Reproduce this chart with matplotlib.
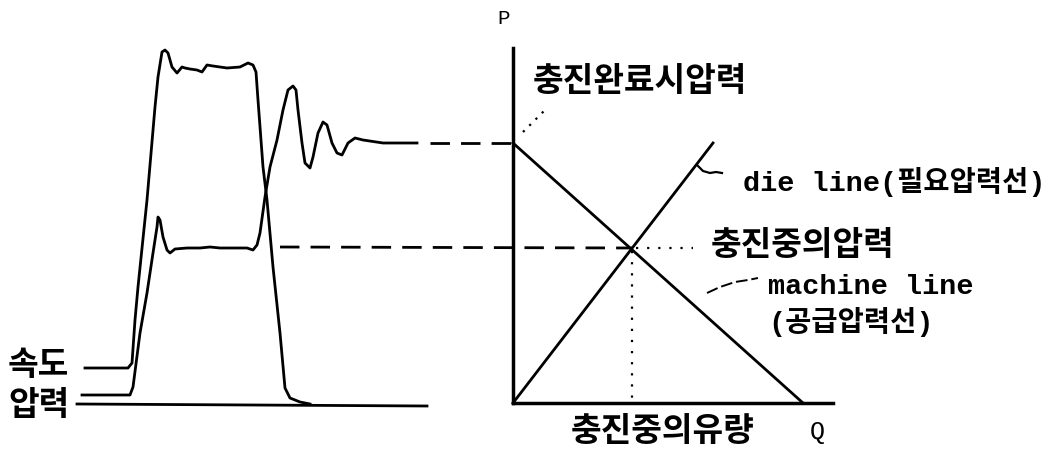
import matplotlib
matplotlib.use("Agg")
import matplotlib.pyplot as plt

# left trace: speed (속도) and pressure (압력), in picture pixel units
speed_x = [85, 128, 132, 135, 138, 147, 155, 158, 162, 165, 168, 172, 177, 182, 185, 190,
           197, 202, 207, 213, 227, 240, 248, 253, 256, 258, 263, 267, 273, 280, 285,
           290, 300, 310]
speed_y = [368, 368, 363, 320, 287, 200, 107, 77, 52, 50, 53, 67, 73, 67, 68, 69,
           70, 72, 65, 66, 68, 67, 63, 65, 72, 100, 167, 200, 267, 333, 388,
           398, 402, 404]

pres_x = [82, 130, 133, 140, 147, 153, 157, 158, 160, 163, 167, 170, 175, 187, 200, 210,
          220, 233, 247, 253, 257, 260, 265, 270, 277, 283, 288, 293, 296, 298, 302,
          305, 310, 313, 318, 323, 327, 332, 337, 342, 348, 355, 363, 383, 417]
pres_y = [395, 395, 387, 333, 293, 253, 227, 217, 220, 237, 250, 253, 249, 248, 248, 247,
          248, 248, 248, 250, 245, 233, 197, 167, 140, 110, 90, 86, 90, 110, 143,
          163, 168, 157, 133, 122, 125, 143, 153, 155, 143, 138, 140, 143, 143]

base_x = [77, 427]
base_y = [404, 406]

# right diagram: P-Q chart
origin = (513, 403)
p_top = 48
q_end = 833
machine_x = [513, 803]
machine_y = [143, 403]
die_x = [513, 713]
die_y = [403, 143]
cross = (632, 248)

fig = plt.figure(figsize=(10.5, 4.58), dpi=100)
ax = fig.add_axes([0, 0, 1, 1])
ax.set_xlim(0, 1050)
ax.set_ylim(458, 0)
ax.axis("off")

lw = 2.0
ax.plot(speed_x, speed_y, color="black", lw=lw)
ax.plot(pres_x, pres_y, color="black", lw=lw)
ax.plot(base_x, base_y, color="black", lw=lw)

# dashed projections
ax.plot([430, origin[0]], [143, 143], color="black", lw=lw, dashes=(7, 4))
ax.plot([280, cross[0]], [247, 248], color="black", lw=lw, dashes=(7, 4))

# axes
ax.plot([origin[0], origin[0]], [p_top, origin[1]], color="black", lw=lw + 0.5)
ax.plot([origin[0], q_end], [origin[1], origin[1]], color="black", lw=lw + 0.5)

ax.plot(machine_x, machine_y, color="black", lw=lw)
ax.plot(die_x, die_y, color="black", lw=lw)

# dotted helpers
ax.plot([cross[0], cross[0]], [cross[1] + 3, origin[1]], color="black", lw=1.6, ls=(0, (1, 4)))
ax.plot([cross[0] + 4, 693], [cross[1], cross[1]], color="black", lw=1.6, ls=(0, (1, 4)))
ax.plot([523, 548], [132, 107], color="black", lw=1.6, ls=(0, (1, 3)))

# leader curves
ax.plot([697, 703, 710, 716, 722], [165, 171, 173, 172, 173], color="black", lw=1.6)
ax.plot([707, 720, 735, 748, 758], [293, 287, 282, 280, 278], color="black", lw=1.4, dashes=(6, 2))

kr = dict(family=["Noto Sans CJK KR"], fontweight="bold", fontsize=24, va="center", ha="left")
mix = dict(family=["Liberation Mono", "Noto Sans CJK KR"], fontweight="bold", fontsize=20.5,
           va="center", ha="left")

ax.text(8, 365, "속도", **kr)
ax.text(8, 405, "압력", **kr)
ax.text(533, 82, "충진완료시압력", **kr)
ax.text(711, 246, "충진중의압력", **kr)
ax.text(571, 432, "충진중의유량", **kr)
ax.text(743, 182, "die line(필요압력선)", **mix)
ax.text(768, 287, "machine line", **mix)
ax.text(768, 322, "(공급압력선)", **mix)
ax.text(497, 19, "P", family=["Liberation Mono"], fontsize=15, va="center", ha="left")
ax.text(810, 432, "Q", family=["Liberation Mono"], fontsize=18, va="center", ha="left")

fig.savefig("out.png", dpi=100)
